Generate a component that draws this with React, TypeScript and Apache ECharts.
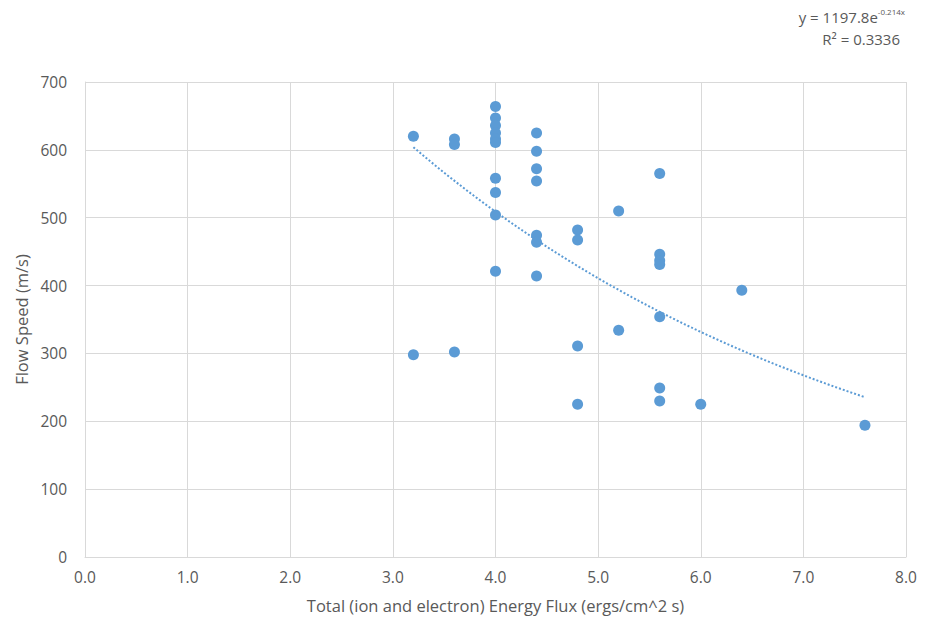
import React, { useEffect, useRef } from "react";
import * as echarts from "echarts";

const energyFlux = [
  3.2, 3.2,
  3.6, 3.6, 3.6,
  4.0, 4.0, 4.0, 4.0, 4.0, 4.0, 4.0, 4.0, 4.0, 4.0,
  4.4, 4.4, 4.4, 4.4, 4.4, 4.4, 4.4,
  4.8, 4.8, 4.8, 4.8,
  5.2, 5.2,
  5.6, 5.6, 5.6, 5.6, 5.6, 5.6, 5.6,
  6.0,
  6.4,
  7.6,
];
const flowSpeed = [
  620, 298,
  616, 608, 302,
  664, 647, 636, 625, 616, 611, 558, 537, 504, 421,
  625, 598, 572, 554, 474, 464, 414,
  482, 467, 311, 225,
  510, 334,
  565, 446, 437, 431, 354, 249, 230,
  225,
  393,
  194,
];
const trendA = 1197.8;
const trendB = -0.214;
const trendRange = [3.2, 7.6];
const xTicks = [0, 1, 2, 3, 4, 5, 6, 7, 8];
const yTicks = [0, 100, 200, 300, 400, 500, 600, 700];

const FONT = "'Open Sans', 'Liberation Sans', sans-serif";
const TXT = "#595959";
const BLUE = "#5b9bd5";

export default function App() {
  const ref = useRef<HTMLDivElement>(null);
  useEffect(() => {
    if (!ref.current) return;
    const chart = echarts.init(ref.current, undefined, { renderer: "svg" });
    const points = energyFlux.map((x, i) => [x, flowSpeed[i]]);
    const trend: number[][] = [];
    const steps = 60;
    for (let i = 0; i <= steps; i++) {
      const x = trendRange[0] + ((trendRange[1] - trendRange[0]) * i) / steps;
      trend.push([x, trendA * Math.exp(trendB * x)]);
    }
    chart.setOption({
      animation: false,
      backgroundColor: "#ffffff",
      textStyle: { fontFamily: FONT },
      grid: { left: 85, right: 29, top: 82, bottom: 73 },
      xAxis: {
        type: "value",
        min: xTicks[0],
        max: xTicks[xTicks.length - 1],
        interval: 1,
        name: "Total (ion and electron) Energy Flux (ergs/cm^2 s)",
        nameLocation: "middle",
        nameGap: 40,
        nameTextStyle: { color: TXT, fontSize: 16.5, fontFamily: FONT },
        axisLine: { show: true, lineStyle: { color: "#d9d9d9", width: 1 } },
        axisTick: { show: false },
        splitLine: { show: true, lineStyle: { color: "#d9d9d9", width: 1 } },
        axisLabel: {
          color: TXT,
          fontSize: 15.5,
          fontFamily: FONT,
          margin: 12,
          formatter: (v: number) => v.toFixed(1),
        },
      },
      yAxis: {
        type: "value",
        min: yTicks[0],
        max: yTicks[yTicks.length - 1],
        interval: 100,
        name: "Flow Speed (m/s)",
        nameLocation: "middle",
        nameGap: 55,
        nameTextStyle: { color: TXT, fontSize: 16.5, fontFamily: FONT },
        axisLine: { show: true, lineStyle: { color: "#d9d9d9", width: 1 } },
        axisTick: { show: false },
        splitLine: { show: true, lineStyle: { color: "#d9d9d9", width: 1 } },
        axisLabel: { color: TXT, fontSize: 15.5, fontFamily: FONT, margin: 18 },
      },
      series: [
        {
          type: "line",
          data: trend,
          showSymbol: false,
          symbol: "none",
          smooth: false,
          lineStyle: { color: BLUE, width: 2, type: [2, 2] },
          silent: true,
          z: 1,
        },
        {
          type: "scatter",
          data: points,
          symbol: "circle",
          symbolSize: 11,
          itemStyle: { color: BLUE, opacity: 1 },
          z: 2,
        },
      ],
      graphic: [
        {
          type: "text",
          right: 30,
          top: 7,
          style: {
            text: "{b|y = 1197.8e}{s|-0.214x}",
            rich: {
              b: { fontSize: 15, fill: TXT, fontFamily: FONT, verticalAlign: "bottom" },
              s: { fontSize: 8, fill: TXT, fontFamily: FONT, verticalAlign: "top", padding: [0, 0, 9, 0] },
            },
          },
        },
        {
          type: "text",
          right: 35,
          top: 31,
          style: {
            text: "R² = 0.3336",
            fontSize: 15,
            fill: TXT,
            fontFamily: FONT,
          },
        },
      ],
    });
    return () => chart.dispose();
  }, []);
  return <div ref={ref} style={{ width: 935, height: 630, position: "absolute", left: 0, top: 0 }} />;
}
